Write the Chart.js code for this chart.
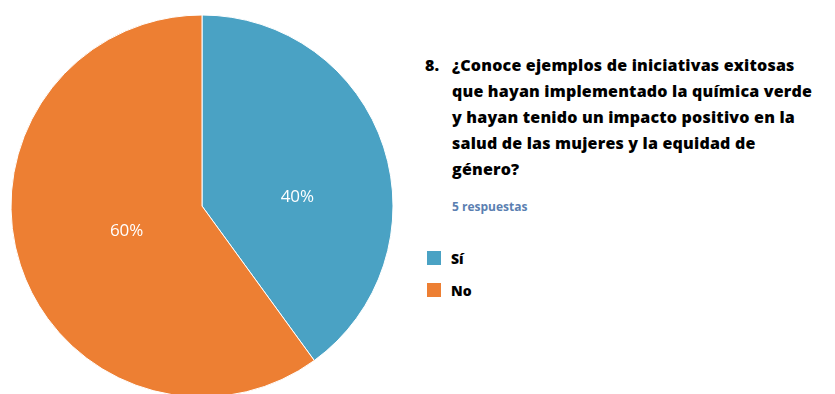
<!DOCTYPE html>
<html>
<head>
<meta charset="utf-8">
<script src="https://cdn.jsdelivr.net/npm/chart.js@4"></script>
<style>
  html, body { margin: 0; padding: 0; background: #fff; overflow: hidden; }
  #wrap { position: relative; width: 835px; height: 394px; }
  #pieBox { position: absolute; left: 0; top: 0; width: 410px; height: 394px; }
  #side { position: absolute; left: 425px; top: 52px; width: 410px; font-family: "Open Sans", sans-serif; color: #000; }
  #question { display: flex; font-weight: 800; font-size: 16px; line-height: 26px; letter-spacing: 0.2px; white-space: nowrap; }
  #question .num { width: 27px; flex: none; }
  #answers { margin: 16px 0 0 27px; font-size: 12px; font-weight: 700; color: #5b7fb1; }
  #legend { margin-top: 27px; }
  .item { display: flex; align-items: center; height: 32px; font-weight: 800; font-size: 14px; }
  .sw { width: 14px; height: 14px; margin: 0 10px 0 2px; }
</style>
</head>
<body>
<div id="wrap">
  <div id="pieBox"><canvas id="chart1"></canvas></div>
  <div id="side">
    <div id="question"><span class="num">8.</span><span id="qtext"></span></div>
    <div id="answers"></div>
    <div id="legend"></div>
  </div>
</div>
<script>
var labels = ['Sí', 'No'];
var counts = [2, 3];
var colours = ['#4aa2c4', '#ed7f33'];
var questionLines = [
  '¿Conoce ejemplos de iniciativas exitosas',
  'que hayan implementado la química verde',
  'y hayan tenido un impacto positivo en la',
  'salud de las mujeres y la equidad de',
  'género?'
];

var total = counts.reduce(function(a, b) { return a + b; }, 0);

document.getElementById('qtext').innerHTML = questionLines.join('<br>');
document.getElementById('answers').textContent = total + ' respuestas';

var legendBox = document.getElementById('legend');
labels.forEach(function(l, i) {
  var row = document.createElement('div');
  row.className = 'item';
  row.innerHTML = '<span class="sw" style="background:' + colours[i] + '"></span><span></span>';
  row.lastChild.textContent = l;
  legendBox.appendChild(row);
});

// percent text inside each slice
var sliceLabels = {
  id: 'sliceLabels',
  afterDatasetsDraw: function(chart) {
    var c = chart.ctx;
    var meta = chart.getDatasetMeta(0);
    c.save();
    c.fillStyle = '#fff';
    c.font = '17px "Open Sans", sans-serif';
    c.textAlign = 'center';
    c.textBaseline = 'middle';
    meta.data.forEach(function(arc, i) {
      var mid = (arc.startAngle + arc.endAngle) / 2;
      var r = arc.outerRadius;
      var x = arc.x + Math.cos(mid) * r * 0.47 + 10;
      var y = arc.y + Math.sin(mid) * r * 0.29 + 8;
      c.fillText(Math.round(counts[i] / total * 100) + '%', x, y);
    });
    c.restore();
  }
};

var ctx = document.getElementById('chart1').getContext('2d');
var chart1 = new Chart(ctx, {
  type: 'pie',
  data: {
    labels: labels,
    datasets: [{
      data: counts,
      backgroundColor: colours,
      borderColor: '#fff',
      borderWidth: 1,
      radius: 191
    }]
  },
  options: {
    responsive: true,
    maintainAspectRatio: false,
    animation: false,
    layout: { padding: { top: 18, left: 12, right: 18, bottom: 0 } },
    plugins: {
      legend: { display: false },
      tooltip: { enabled: false }
    }
  },
  plugins: [sliceLabels]
});
</script>
</body>
</html>
